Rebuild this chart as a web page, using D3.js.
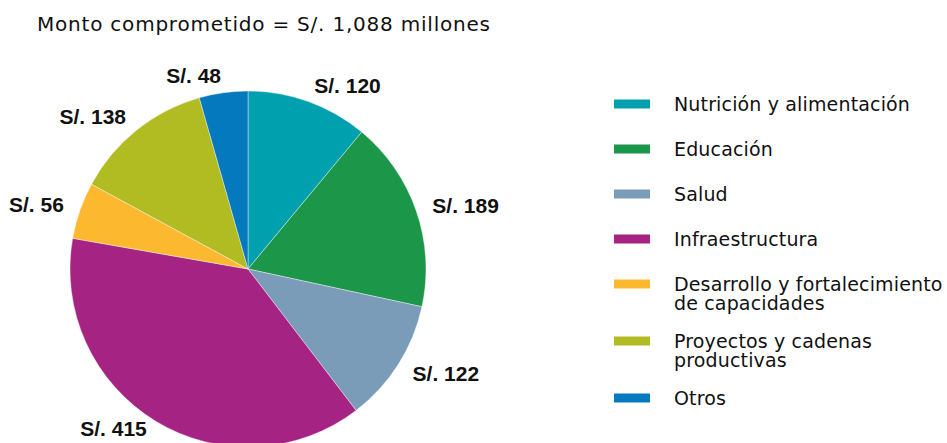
<!DOCTYPE html>
<html>
<head>
<meta charset="utf-8">
<script src="https://cdn.jsdelivr.net/npm/d3@7"></script>
<style>
  body { margin: 0; background: #fff; }
</style>
</head>
<body>
<main></main>
<script>
// data
const categories = ['Nutrición y alimentación', 'Educación', 'Salud', 'Infraestructura', 'Desarrollo y fortalecimiento de capacidades', 'Proyectos y cadenas productivas', 'Otros'];
const legendLines = [['Nutrición y alimentación'], ['Educación'], ['Salud'], ['Infraestructura'], ['Desarrollo y fortalecimiento', 'de capacidades'], ['Proyectos y cadenas', 'productivas'], ['Otros']];
const values = [120, 189, 122, 415, 56, 138, 48];
const colors = ['#00a0ae', '#1c9649', '#7b9cb8', '#a52383', '#fcb92f', '#b1bb22', '#0479be'];
const title = 'Monto comprometido = S/. 1,088 millones';

// layout
const width = 947;
const height = 443;
const cx = 248;
const cy = 269;
const radius = 178;
const labelRadius = 195;

const svg = d3.select('main')
  .append('svg')
  .attr('width', width)
  .attr('height', height);

svg.append('text')
  .attr('x', 37)
  .attr('y', 31)
  .attr('font-family', 'DejaVu Sans')
  .attr('font-size', 20)
  .attr('textLength', 453)
  .attr('lengthAdjust', 'spacing')
  .attr('fill', '#111')
  .text(title);

const pie = d3.pie().sort(null).value(d => d);
const arcs = pie(values);
const arc = d3.arc().innerRadius(0).outerRadius(radius);
const labelArc = d3.arc().innerRadius(labelRadius).outerRadius(labelRadius);

const g = svg.append('g').attr('transform', `translate(${cx},${cy})`);

g.selectAll('path')
  .data(arcs)
  .enter()
  .append('path')
  .attr('d', arc)
  .attr('fill', (d, i) => colors[i])
  .attr('stroke', '#fff')
  .attr('stroke-width', 0.4);

// labels sit just outside the pie, anchored away from the centre (kept inside the frame)
const labelPos = d => {
  const [x, y] = labelArc.centroid(d);
  return [x, Math.min(y, height - cy - 15)];
};

g.selectAll('text.value')
  .data(arcs)
  .enter()
  .append('text')
  .attr('class', 'value')
  .attr('transform', d => `translate(${labelPos(d)})`)
  .attr('text-anchor', d => ((d.startAngle + d.endAngle) / 2 < Math.PI ? 'start' : 'end'))
  .attr('dominant-baseline', 'central')
  .attr('font-family', 'Liberation Sans, Arial, sans-serif')
  .attr('font-weight', 'bold')
  .attr('font-size', 21)
  .attr('fill', '#111')
  .text(d => `S/. ${d.data}`);

// legend
const rowHeight = lines => (lines.length > 1 ? 57 : 45);
let y = 104;
const legendY = legendLines.map(lines => { const v = y; y += rowHeight(lines); return v; });

const legend = svg.append('g');
legendLines.forEach((lines, i) => {
  legend.append('rect')
    .attr('x', 614)
    .attr('y', legendY[i] - 4.5)
    .attr('width', 36)
    .attr('height', 9)
    .attr('fill', colors[i]);
  const t = legend.append('text')
    .attr('x', 674)
    .attr('y', legendY[i])
    .attr('dominant-baseline', 'central')
    .attr('font-family', 'DejaVu Sans')
    .attr('font-size', 19)
    .attr('letter-spacing', 0.15)
    .attr('fill', '#111');
  lines.forEach((line, j) => {
    t.append('tspan')
      .attr('x', 674)
      .attr('dy', j === 0 ? 0 : 18.5)
      .text(line);
  });
});
</script>
</body>
</html>
